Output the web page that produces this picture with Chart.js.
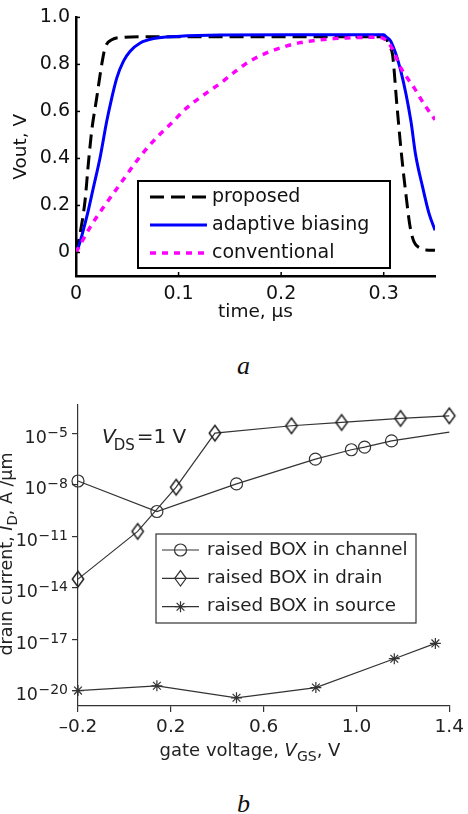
<!DOCTYPE html>
<html><head><meta charset="utf-8">
<script src="https://cdn.jsdelivr.net/npm/chart.js@4.4.1/dist/chart.umd.min.js"></script>
<style>
html,body{margin:0;padding:0;background:#fff;}
body{width:468px;height:814px;position:relative;overflow:hidden;}
#wa{position:absolute;left:0;top:0;width:468px;height:330px;}
#wb{position:absolute;left:0;top:380px;width:468px;height:390px;}
.cap{position:absolute;font-family:"Liberation Serif","Times New Roman",serif;font-style:italic;font-size:26px;color:#111;line-height:1;}
</style></head><body>
<div id="wa"><canvas id="ca"></canvas></div>
<div class="cap" style="left:237px;top:353px;">a</div>
<div id="wb"><canvas id="cb"></canvas></div>
<div class="cap" style="left:237px;top:791px;">b</div>
<script>
// ---------- Chart a data ----------
const tProposed = [0, 0.0039, 0.0088, 0.012, 0.0153, 0.0202, 0.0251, 0.0283, 0.0349, 0.0463, 0.07, 0.15, 0.25, 0.300, 0.303, 0.3055, 0.3086, 0.3128, 0.3173, 0.3216, 0.3258, 0.3297, 0.335, 0.341, 0.35];
const vProposed = [0, 0.079, 0.22, 0.376, 0.517, 0.658, 0.80, 0.87, 0.905, 0.915, 0.918, 0.918, 0.918, 0.918, 0.905, 0.875, 0.842, 0.63, 0.418, 0.249, 0.107, 0.044, 0.02, 0.011, 0.01];
const tAdaptive = [0, 0.0023, 0.0104, 0.017, 0.0235, 0.030, 0.0349, 0.0398, 0.0463, 0.0528, 0.0626, 0.0756, 0.0984, 0.1408, 0.22, 0.300, 0.303, 0.307, 0.3167, 0.3265, 0.331, 0.338, 0.3443, 0.35];
const vAdaptive = [0, 0.022, 0.15, 0.277, 0.404, 0.559, 0.658, 0.743, 0.814, 0.856, 0.891, 0.91, 0.919, 0.925, 0.926, 0.926, 0.915, 0.898, 0.771, 0.559, 0.418, 0.277, 0.164, 0.095];
const tConventional = [0, 0.0137, 0.0267, 0.043, 0.0593, 0.0756, 0.0919, 0.1082, 0.1245, 0.1408, 0.1538, 0.170, 0.1864, 0.2027, 0.219, 0.2353, 0.2515, 0.268, 0.2906, 0.300, 0.307, 0.3167, 0.3297, 0.3395, 0.35];
const vConventional = [0, 0.107, 0.192, 0.291, 0.39, 0.475, 0.545, 0.616, 0.67, 0.72, 0.765, 0.815, 0.85, 0.875, 0.893, 0.903, 0.91, 0.913, 0.916, 0.91, 0.877, 0.785, 0.70, 0.63, 0.565];
const seriesLabelsA = ['proposed', 'adaptive biasing', 'conventional'];
const xTicksA = [0, 0.1, 0.2, 0.3];
const xTickLabelsA = ['0', '0.1', '0.2', '0.3'];
const yTicksA = [0, 0.2, 0.4, 0.6, 0.8, 1.0];
const yTickLabelsA = ['0', '0.2', '0.4', '0.6', '0.8', '1.0'];

// ---------- Chart b data ----------
const vgsChannel = [-0.2, 0.14, 0.483, 0.823, 0.978, 1.035, 1.151, 1.40];
const idChannel = [1.66e-8, 2.75e-10, 1.12e-8, 3.1e-7, 1.1e-6, 1.55e-6, 3.6e-6, 1.17e-5];
const vgsDrain = [-0.2, 0.057, 0.223, 0.39, 0.72, 0.936, 1.19, 1.40];
const idDrain = [3.16e-14, 1.9e-11, 7.2e-9, 1.02e-5, 2.75e-5, 4.3e-5, 7.4e-5, 1.05e-4];
const vgsSource = [-0.2, 0.14, 0.483, 0.825, 1.163, 1.34];
const idSource = [1.0e-20, 1.9e-20, 3.8e-21, 1.5e-20, 7.2e-19, 5.6e-18];
const seriesLabelsB = ['raised BOX in channel', 'raised BOX in drain', 'raised BOX in source'];
const xTicksB = [-0.2, 0.2, 0.6, 1.0, 1.4];
const xTickLabelsB = ['\u20130.2', '0.2', '0.6', '1.0', '1.4'];
const yTicksB = [1e-20, 1e-17, 1e-14, 1e-11, 1e-8, 1e-5];
const yTickBaseB = '10';
const yTickExpB = ['\u221220', '\u221217', '\u221214', '\u221211', '\u22128', '\u22125'];

const FONT = "'DejaVu Sans', 'Liberation Sans', sans-serif";
Chart.defaults.font.family = FONT;
Chart.defaults.animation = false;

const toXY = (xs, ys) => xs.map((x, i) => ({x: x, y: ys[i]}));
const setTicks = arr => scale => { scale.ticks = arr.map(v => ({value: v})); };
const labelFrom = labels => (v, i) => labels[i];

// ---------- plugins for chart a ----------
const inwardTicksA = {
  id: 'inwardTicksA',
  afterDatasetsDraw(chart) {
    const {ctx, chartArea: a, scales: {x, y}} = chart;
    ctx.save();
    ctx.strokeStyle = '#000'; ctx.lineWidth = 1.5;
    xTicksA.forEach(v => { const p = x.getPixelForValue(v); ctx.beginPath(); ctx.moveTo(p, a.bottom); ctx.lineTo(p, a.bottom - 4); ctx.stroke(); });
    yTicksA.forEach(v => { const p = y.getPixelForValue(v); ctx.beginPath(); ctx.moveTo(a.left, p); ctx.lineTo(a.left + 4, p); ctx.stroke(); });
    ctx.restore();
  }
};
const legendA = {
  id: 'legendA',
  afterDraw(chart) {
    const ctx = chart.ctx;
    ctx.save();
    ctx.fillStyle = '#fff'; ctx.fillRect(138, 181, 252, 87);
    ctx.strokeStyle = '#000'; ctx.lineWidth = 2; ctx.strokeRect(138, 181, 252, 87);
    const rows = [197, 225, 253];
    chart.data.datasets.forEach((ds, i) => {
      const yy = rows[i];
      ctx.save();
      ctx.strokeStyle = ds.borderColor; ctx.lineWidth = ds.borderWidth;
      ctx.setLineDash(ds.borderDash || []);
      ctx.beginPath(); ctx.moveTo(150, yy); ctx.lineTo(207, yy); ctx.stroke();
      ctx.restore();
      ctx.fillStyle = '#111'; ctx.font = '19px ' + FONT;
      ctx.textBaseline = 'middle'; ctx.textAlign = 'left';
      ctx.fillText(ds.label, 212, yy);
    });
    ctx.restore();
  }
};

new Chart(document.getElementById('ca'), {
  type: 'line',
  data: {
    datasets: [
      {label: seriesLabelsA[0], data: toXY(tProposed, vProposed), borderColor: '#000000', borderWidth: 3, borderDash: [14, 7], pointRadius: 0, cubicInterpolationMode: 'monotone', order: 2},
      {label: seriesLabelsA[1], data: toXY(tAdaptive, vAdaptive), borderColor: '#0000ff', borderWidth: 3, pointRadius: 0, cubicInterpolationMode: 'monotone', order: 1},
      {label: seriesLabelsA[2], data: toXY(tConventional, vConventional), borderColor: '#ff00ff', borderWidth: 3.5, borderDash: [6, 6], pointRadius: 0, cubicInterpolationMode: 'monotone', order: 0}
    ]
  },
  options: {
    responsive: true, maintainAspectRatio: false,
    layout: {padding: {top: 16, right: 33, left: 0, bottom: 0}},
    plugins: {legend: {display: false}, tooltip: {enabled: false}},
    scales: {
      x: {
        type: 'linear', min: 0, max: 0.35,
        afterBuildTicks: setTicks(xTicksA),
        afterFit: s => { s.height = 54; },
        ticks: {callback: labelFrom(xTickLabelsA), color: '#111', font: {size: 19}, padding: 7, maxRotation: 0, autoSkip: false},
        grid: {display: false, drawTicks: false},
        border: {display: true, color: '#000', width: 2.5},
        title: {display: true, text: 'time, \u00B5s', color: '#111', font: {size: 18.5}, padding: {top: 4, bottom: 7}}
      },
      y: {
        type: 'linear', min: -0.1, max: 1.0,
        afterBuildTicks: setTicks(yTicksA),
        afterFit: s => { s.width = 76; },
        ticks: {callback: labelFrom(yTickLabelsA), color: '#111', font: {size: 19}, padding: 6, autoSkip: false},
        grid: {display: false, drawTicks: false},
        border: {display: true, color: '#000', width: 2.5},
        title: {display: true, text: 'Vout, V', color: '#111', font: {size: 18.5}, padding: {top: 10, bottom: 0}}
      }
    }
  },
  plugins: [inwardTicksA, legendA]
});

// ---------- chart b helpers ----------
function diamondPath(ctx, x, y, hw, hh) {
  ctx.moveTo(x, y - hh); ctx.lineTo(x + hw, y); ctx.lineTo(x, y + hh); ctx.lineTo(x - hw, y); ctx.closePath();
}
function makeDiamondImage() {
  const c = document.createElement('canvas');
  c.width = 16; c.height = 20;
  const g = c.getContext('2d');
  g.strokeStyle = '#222'; g.lineWidth = 1.5;
  g.beginPath(); diamondPath(g, 8, 10, 5.7, 7.7); g.stroke();
  return c;
}
const diamondImg = makeDiamondImage();
function drawMarker(ctx, style, r, x, y) {
  ctx.beginPath();
  if (style === 'circle') {
    ctx.arc(x, y, r, 0, Math.PI * 2);
  } else if (style === 'diamond') {
    diamondPath(ctx, x, y, 5.7, 7.7);
  } else if (style === 'star') {
    for (let k = 0; k < 4; k++) {
      const a = k * Math.PI / 4;
      ctx.moveTo(x - Math.cos(a) * r, y - Math.sin(a) * r);
      ctx.lineTo(x + Math.cos(a) * r, y + Math.sin(a) * r);
    }
  }
  ctx.stroke();
}
function drawRich(ctx, parts, x, y, align) {
  let total = 0;
  parts.forEach(p => { ctx.font = p[1]; total += ctx.measureText(p[0]).width + (p[3] || 0); });
  let cx = align === 'center' ? x - total / 2 : (align === 'right' ? x - total : x);
  parts.forEach(p => { ctx.font = p[1]; ctx.fillText(p[0], cx, y + (p[2] || 0)); cx += ctx.measureText(p[0]).width + (p[3] || 0); });
}
const textsB = {
  id: 'textsB',
  afterDraw(chart) {
    const ctx = chart.ctx;
    const yScale = chart.scales.y;
    ctx.save();
    ctx.fillStyle = '#222'; ctx.textAlign = 'left'; ctx.textBaseline = 'alphabetic';
    // y tick labels 10^n
    yTicksB.forEach((v, i) => {
      const p = yScale.getPixelForValue(v);
      drawRich(ctx, [
        [yTickBaseB, '17.5px ' + FONT, 9.5, 0.5],
        [yTickExpB[i], '14px ' + FONT, 3.5, 0]
      ], 68, p, 'right');
    });
    // V_DS = 1 V
    drawRich(ctx, [
      ['V', 'italic 20px ' + FONT, 0, -2],
      ['DS', '15px ' + FONT, 7, 2],
      ['=1 V', '20px ' + FONT, 0, 0]
    ], 102, 63, 'left');
    // x title
    drawRich(ctx, [
      ['gate voltage, ', '18px ' + FONT, 0, 0],
      ['V', 'italic 18px ' + FONT, 0, 0],
      ['GS', '14px ' + FONT, 5, 0],
      [', V', '18px ' + FONT, 0, 0]
    ], 250, 376, 'center');
    // y title (rotated)
    ctx.save();
    ctx.translate(12, 174);
    ctx.rotate(-Math.PI / 2);
    drawRich(ctx, [
      ['drain current, ', '17.5px ' + FONT, 0, 0],
      ['I', 'italic 17.5px ' + FONT, 0, 0],
      ['D', '13.5px ' + FONT, 5, 0],
      [', A /\u00B5m', '17.5px ' + FONT, 0, 0]
    ], 0, 0, 'center');
    ctx.restore();
    // legend
    ctx.fillStyle = '#fff'; ctx.fillRect(156, 154, 260, 89);
    ctx.strokeStyle = '#333'; ctx.lineWidth = 1.2; ctx.strokeRect(156, 154, 260, 89);
    const rows = [170, 198.3, 226.7];
    chart.data.datasets.forEach((ds, i) => {
      const yy = rows[i];
      ctx.strokeStyle = '#333'; ctx.lineWidth = 1.2;
      ctx.beginPath(); ctx.moveTo(162, yy); ctx.lineTo(199, yy); ctx.stroke();
      drawMarker(ctx, ds.markerName, ds.markerSize, 180.5, yy);
      ctx.fillStyle = '#222'; ctx.font = '18.3px ' + FONT; ctx.textBaseline = 'middle';
      ctx.fillText(ds.label, 207, yy);
    });
    ctx.restore();
  }
};

new Chart(document.getElementById('cb'), {
  type: 'line',
  data: {
    datasets: [
      {label: seriesLabelsB[0], data: toXY(vgsChannel, idChannel), pointStyle: 'circle', markerName: 'circle', markerSize: 6,
       pointRadius: [6, 6, 6, 6, 6, 6, 6, 0]},
      {label: seriesLabelsB[1], data: toXY(vgsDrain, idDrain), pointStyle: diamondImg, markerName: 'diamond', markerSize: 7, pointRadius: 7},
      {label: seriesLabelsB[2], data: toXY(vgsSource, idSource), pointStyle: 'star', markerName: 'star', markerSize: 5.5, pointRadius: 5.5}
    ].map(d => Object.assign(d, {
      borderColor: '#333', borderWidth: 1.2, pointBorderColor: '#333', pointBackgroundColor: 'rgba(0,0,0,0)',
      pointBorderWidth: 1.2, tension: 0, clip: false
    }))
  },
  options: {
    responsive: true, maintainAspectRatio: false,
    layout: {padding: {top: 25, right: 14, left: 0, bottom: 0}},
    plugins: {legend: {display: false}, tooltip: {enabled: false}},
    scales: {
      x: {
        type: 'linear', min: -0.2, max: 1.4,
        afterBuildTicks: setTicks(xTicksB),
        afterFit: s => { s.height = 64; },
        ticks: {callback: labelFrom(xTickLabelsB), color: '#222', font: {size: 18.5}, padding: 4, maxRotation: 0, autoSkip: false},
        grid: {drawOnChartArea: false, drawTicks: true, tickLength: 6, color: '#333', lineWidth: 1.2},
        border: {display: true, color: '#333', width: 1.2}
      },
      y: {
        type: 'logarithmic', min: 1.26e-21, max: 4.47e-4,
        afterBuildTicks: setTicks(yTicksB),
        afterFit: s => { s.width = 78; },
        ticks: {display: false},
        grid: {drawOnChartArea: false, drawTicks: true, tickLength: 6, color: '#333', lineWidth: 1.2},
        border: {display: true, color: '#333', width: 1.2}
      }
    }
  },
  plugins: [textsB]
});
</script>
</body></html>
